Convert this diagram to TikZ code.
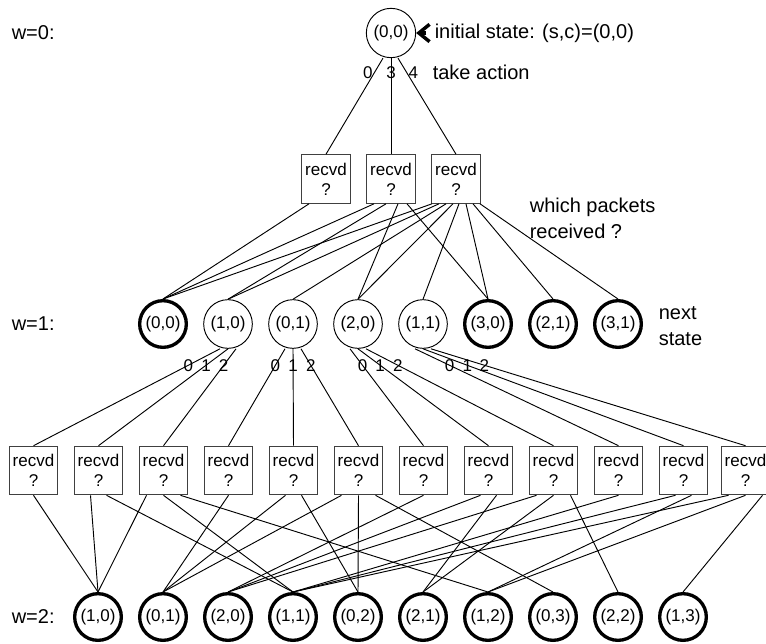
\documentclass[tikz,border=0pt]{standalone}
\usepackage{fontspec}
\setmainfont{Liberation Sans}
\usetikzlibrary{arrows.meta,calc}
\newcommand{\notefont}{\fontsize{15}{19.5}\selectfont}
\newcommand{\statefont}{\fontsize{12.75}{15}\selectfont}

\begin{document}
\begin{tikzpicture}[x=0.75pt,y=-0.75pt,line width=0.7pt,
 state/.style={circle,draw,line width=0.7pt,minimum size=36.5pt,inner sep=1pt,font=\statefont},
 term/.style={state,line width=2.5pt,minimum size=35pt},
 recvd/.style={draw=black!75,line width=0.7pt,minimum width=36.5pt,minimum height=36.5pt,inner sep=1pt,align=center,font=\statefont},
 choice/.style={font=\statefont,inner sep=1pt},
 note/.style={font=\notefont,inner sep=1pt,anchor=west,align=left}]
\useasboundingbox (0,0) rectangle (766,643);
% w=0: the initial state and its three actions
\node[note] at (10,33) {w=0:};
\node[state,minimum width=36pt,minimum height=37pt] (s0) at (391,33) {(0,0)};
\node[note] (init) at (433,33) {initial state: (s,c)=(0,0)};
\draw[-{Straight Barb[length=8pt,width=13pt]},line width=2.6pt,shorten <=5pt] (init.west) -- (s0.east);
\node[recvd] (a0) at (326,179) {recvd\\?};
\node[recvd] (a3) at (391,179) {recvd\\?};
\node[recvd] (a4) at (456,179) {recvd\\?};
\draw ($(s0.south)+(-8,0)$) -- (a0.north) node[choice,pos=.15,anchor=east] {0};
\draw (s0.south) -- (a3.north) node[choice,pos=.15] {3};
\draw ($(s0.south)+(7,0)$) -- (a4.north) node[choice,pos=.15,anchor=west] {4};
\node[note] at (431,72) {take action};
\node[note] at (528,218) {which packets\\received ?};
% w=1
\node[note] at (10,324) {w=1:};
\foreach \s/\c/\st [count=\i from 0] in {0/0/term,1/0/state,0/1/state,2/0/state,1/1/state,3/0/term,2/1/term,3/1/term}
  \node[\st] (m\s\c) at ({163+65*\i},324) {(\s,\c)};
\node[note] at (657,326) {next\\state};
\foreach \b/\o/\t in {a0/-17/m00, a3/-17/m00, a3/-5/m10, a3/7/m20, a3/16/m30,
  a4/-24/m00, a4/-17/m10, a4/-10/m01, a4/-3/m20, a4/3/m11, a4/10/m30, a4/17/m21, a4/24/m31}
  \draw ($(\b.south)+(\o,0)$) -- (\t.north);
% w=2
\foreach \i in {1,...,12}
  \node[recvd] (b\i) at ({min(65*\i-31.5,745.5)},470.5) {recvd\\?};
\foreach \m/\o/\b/\a in {m10/-8/b1/0, m10/0/b2/1, m10/8/b3/2, m01/-8/b4/0, m01/0/b5/1, m01/8/b6/2,
  m20/-8/b7/0, m20/0/b8/1, m20/8/b9/2, m11/-8/b10/0, m11/0/b11/1, m11/8/b12/2}
  \draw ($(\m.south)+(\o,0)$) -- (\b.north) node[choice,pos=.17] {\a};
\node[note] at (10,617) {w=2:};
\foreach \s/\c [count=\i from 0] in {1/0,0/1,2/0,1/1,0/2,2/1,1/2,0/3,2/2,1/3}
  \node[term] (n\s\c) at ({98+65*\i},617) {(\s,\c)};
\foreach \b/\o/\t in {b1/0/n10, b2/-8/n10, b2/8/n11, b3/-17/n10, b3/0/n11, b3/17/n12,
  b4/0/n01, b5/-8/n01, b5/8/n02, b6/-17/n01, b6/0/n02, b6/17/n03,
  b7/0/n20, b8/-8/n20, b8/8/n21, b9/-17/n20, b9/0/n21, b9/17/n22,
  b10/0/n11, b11/-8/n11, b11/8/n12, b12/-17/n11, b12/0/n12, b12/17/n13}
  \draw ($(\b.south)+(\o,0)$) -- (\t.north);
\end{tikzpicture}
\end{document}
